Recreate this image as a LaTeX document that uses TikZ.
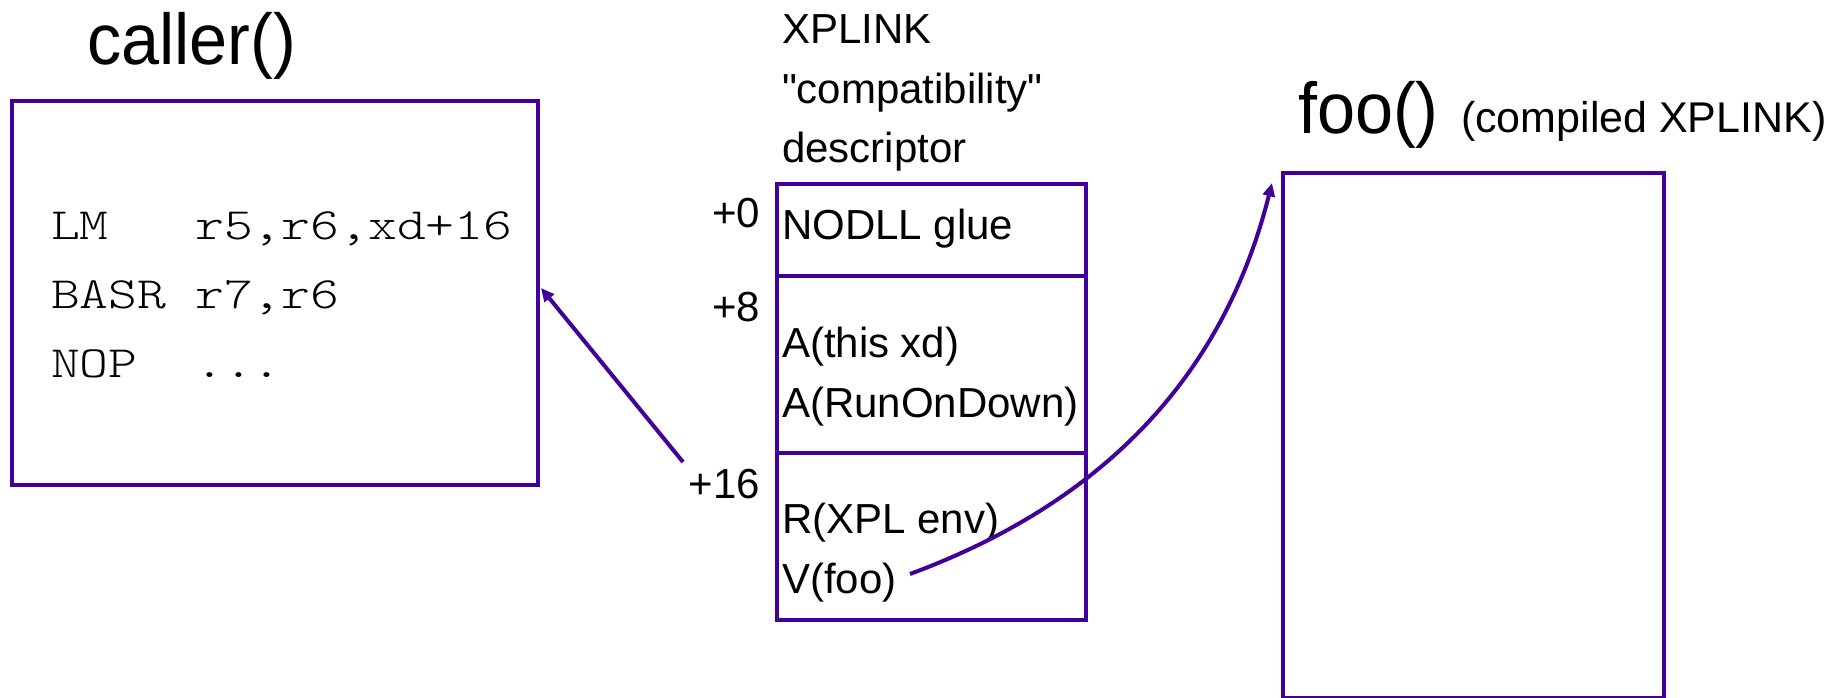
\documentclass[tikz,border=0pt]{standalone}
\usepackage{fontspec}
\setmainfont{Liberation Sans}[Ligatures=TeXOff]
\newfontfamily\titlefont[FakeStretch=0.95]{Liberation Sans}
\newfontfamily\asmfont[FakeStretch=1.23]{Latin Modern Mono Light}
\usetikzlibrary{arrows.meta,fit}

\definecolor{linkviolet}{RGB}{64,0,153}

\begin{document}
\begin{tikzpicture}[
    x=0.75pt, y=-0.75pt,
    every node/.style={inner sep=0pt, outer sep=0pt},
    box/.style={draw=linkviolet, line width=3pt, inner sep=0pt},
    heading/.style={anchor=base west, font=\titlefont\fontsize{54}{60}\selectfont},
    subheading/.style={anchor=base west, font=\fontsize{32.25}{38}\selectfont},
    txt/.style={anchor=base west, font=\fontsize{31.5}{38}\selectfont},
    offs/.style={anchor=base east, font=\fontsize{31.5}{38}\selectfont},
    asm/.style={anchor=base west, font=\asmfont\fontsize{33.5}{40}\selectfont},
    conn/.style={draw=linkviolet, line width=3pt,
                 -{Triangle[length=10pt,width=9pt]}},
    rule/.style={draw=linkviolet, line width=3pt},
  ]
  \useasboundingbox (0,0) rectangle (1826,698);

  % caller() and its code
  \node[heading] (callerT) at (87,65) {caller()};
  \node[box, fit={(12,101) (538,485)}] (caller) {};
  \node[asm] (c1) at (51,240) {LM\ \ \ r5,r6,xd+16};
  \node[asm] (c2) at (51,309) {BASR r7,r6};
  \node[asm] (c3) at (51,377) {NOP\ \ ...};

  % descriptor heading
  \node[txt] (h1) at (782,44)  {XPLINK};
  \node[txt] (h2) at (782,104) {"compatibility"};
  \node[txt] (h3) at (782,163) {descriptor};

  % descriptor with its three slots
  \node[box, fit={(777,184.5) (1086,620)}] (desc) {};
  \draw[rule] (777,276) -- (1086,276);
  \draw[rule] (777,453) -- (1086,453);

  \node[offs] (o0)  at (760,228) {+0};
  \node[offs] (o8)  at (760,322) {+8};
  \node[offs] (o16) at (760,498) {+16};

  \node[txt] (s1) at (782,240) {NODLL glue};
  \node[txt] (s2) at (782,358) {A(this xd)};
  \node[txt] (s3) at (782,417) {A(RunOnDown)};
  \node[txt] (s4) at (782,533) {R(XPL env)};
  \node[txt] (s5) at (782,593) {V(foo)};

  % foo()
  \node[heading] (fooT) at (1298,134) {foo()};
  \node[subheading] (fooS) at (1461,133) {(compiled XPLINK)};
  \node[box, fit={(1283,173) (1664,698)}] (foo) {};

  % connectors
  \coordinate (from16) at (683,462);
  \coordinate (callerIn) at (541,288);
  \draw[conn] (from16) -- (callerIn);

  \coordinate (fromV) at (910,574);
  \coordinate (fooIn) at (1272,183);
  \draw[conn] (fromV) .. controls (1110,500) and (1225,370) .. (fooIn);
\end{tikzpicture}
\end{document}
